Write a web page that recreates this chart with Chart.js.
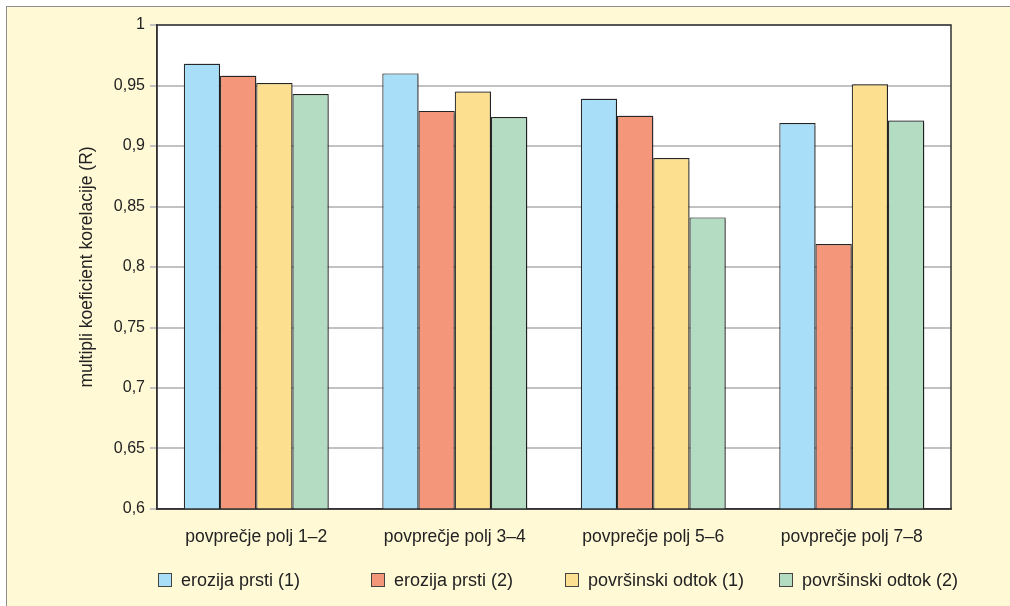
<!DOCTYPE html>
<html>
<head>
<meta charset="utf-8">
<script src="https://cdn.jsdelivr.net/npm/chart.js@4/dist/chart.umd.min.js"></script>
<style>
  body { margin: 0; background: #fff; }
  #wrap { position: relative; width: 1010px; height: 606px; overflow: hidden; }
  #bg { position: absolute; left: 6px; top: 6px; right: 0; bottom: 0; background: #FFF9D6; border-top: 1.5px solid #8c8c8c; border-left: 1.5px solid #8c8c8c; }
  #chart { position: absolute; left: 0; top: 0; }
  #legend { position: absolute; left: 0; top: 570px; width: 1010px; height: 20px; font: 18px "Liberation Sans", Arial, sans-serif; color: #222; }
  .item { position: absolute; top: 0; height: 20px; line-height: 20px; white-space: nowrap; }
  .box { display: inline-block; width: 12px; height: 12px; border: 1px solid #444; vertical-align: -1px; margin-right: 9px; }
</style>
</head>
<body>
<div id="wrap">
  <div id="bg"></div>
  <canvas id="chart" width="1010" height="606"></canvas>
  <div id="legend"></div>
</div>
<script>
var categories = ["povprečje polj 1–2", "povprečje polj 3–4", "povprečje polj 5–6", "povprečje polj 7–8"];
var seriesNames = ["erozija prsti (1)", "erozija prsti (2)", "površinski odtok (1)", "površinski odtok (2)"];
var erozija1 = [0.968, 0.960, 0.939, 0.919];
var erozija2 = [0.958, 0.929, 0.925, 0.819];
var odtok1 = [0.952, 0.945, 0.890, 0.951];
var odtok2 = [0.943, 0.924, 0.841, 0.921];
var yTicks = [0.6, 0.65, 0.7, 0.75, 0.8, 0.85, 0.9, 0.95, 1];
var yTickLabels = ["0,6", "0,65", "0,7", "0,75", "0,8", "0,85", "0,9", "0,95", "1"];

var colors = ["#A9DEF9", "#F4967A", "#FDE08F", "#B3DCC2"];
var legendLeft = [158, 371, 565, 779];
var fontFamily = '"Liberation Sans", Arial, sans-serif';

Chart.defaults.font.family = fontFamily;
Chart.defaults.color = "#222";

var allSeries = [erozija1, erozija2, odtok1, odtok2];
var datasets = [];
for (var i = 0; i < allSeries.length; i++) {
    datasets.push({
        label: seriesNames[i],
        data: allSeries[i],
        backgroundColor: colors[i],
        borderColor: "#2b2b2b",
        borderWidth: 1.2,
        barPercentage: 1,
        categoryPercentage: 0.73
    });
}

// white plot area + frame, and soft shadow under the bars
var plotFrame = {
    id: "plotFrame",
    beforeDraw: function(chart) {
        var a = chart.chartArea, c = chart.ctx;
        c.save();
        c.fillStyle = "#fff";
        c.fillRect(a.left, a.top, a.right - a.left, a.bottom - a.top);
        c.restore();
    },
    beforeDatasetsDraw: function(chart) {
        var c = chart.ctx;
        c.save();
        c.shadowColor = "rgba(0,0,0,0.3)";
        c.shadowOffsetX = 1.5;
        c.shadowOffsetY = -1;
        c.shadowBlur = 1;
    },
    afterDatasetsDraw: function(chart) {
        chart.ctx.restore();
    },
    afterDraw: function(chart) {
        var a = chart.chartArea, c = chart.ctx;
        c.save();
        c.strokeStyle = "#333";
        c.lineWidth = 1.5;
        c.strokeRect(a.left, a.top, a.right - a.left, a.bottom - a.top);
        c.restore();
    }
};

new Chart(document.getElementById("chart"), {
    type: "bar",
    data: { labels: categories, datasets: datasets },
    plugins: [plotFrame],
    options: {
        responsive: false,
        animation: false,
        layout: { padding: { top: 25, right: 59, bottom: 40, left: 0 } },
        plugins: {
            legend: { display: false },
            tooltip: { enabled: false }
        },
        scales: {
            x: {
                grid: { display: false, drawTicks: false },
                border: { color: "#333", width: 1.5 },
                ticks: { padding: 18, font: { size: 17.5 }, color: "#222" }
            },
            y: {
                min: 0.6,
                max: 1,
                afterFit: function(scale) { scale.width = 157; },
                afterBuildTicks: function(scale) {
                    scale.ticks = yTicks.map(function(v) { return { value: v }; });
                },
                ticks: {
                    padding: 5,
                    font: { size: 16 },
                    color: "#222",
                    callback: function(v) {
                        var k = yTicks.indexOf(Math.round(v * 100) / 100);
                        return k >= 0 ? yTickLabels[k] : "";
                    }
                },
                grid: { color: "#c2c2c2", lineWidth: 2, tickLength: 7 },
                border: { color: "#333", width: 1.5 },
                title: {
                    display: true,
                    text: "multipli koeficient korelacije (R)",
                    font: { size: 17.5 },
                    color: "#222",
                    padding: { top: 77, bottom: 0 }
                }
            }
        }
    }
});

var legend = document.getElementById("legend");
for (var i = 0; i < seriesNames.length; i++) {
    var item = document.createElement("div");
    item.className = "item";
    item.style.left = legendLeft[i] + "px";
    var box = document.createElement("span");
    box.className = "box";
    box.style.background = colors[i];
    item.appendChild(box);
    item.appendChild(document.createTextNode(seriesNames[i]));
    legend.appendChild(item);
}
</script>
</body>
</html>
